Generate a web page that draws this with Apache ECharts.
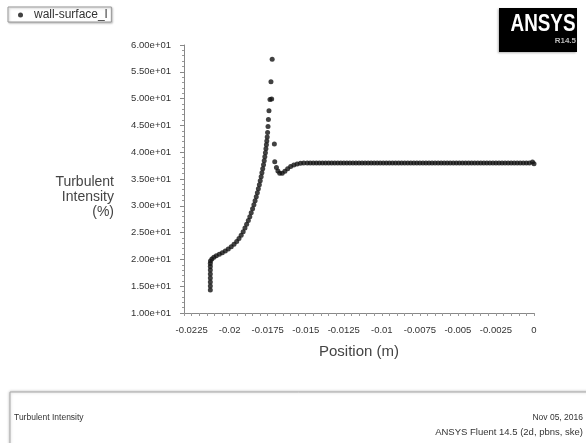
<!DOCTYPE html>
<html>
<head>
<meta charset="utf-8">
<script src="https://cdn.jsdelivr.net/npm/echarts@6/dist/echarts.min.js"></script>
<style>
  html, body { margin: 0; padding: 0; background: #fff; }
  #chart { width: 586px; height: 443px; }
</style>
</head>
<body>
<div id="chart"></div>
<script>
// wall-surface data: position (m) / turbulent intensity (%)
const position = [
  -0.02127, -0.02127, -0.02127, -0.02127, -0.02127, -0.02127, -0.02127, -0.02127, -0.02126,
  -0.021168, -0.021038, -0.020875, -0.020679, -0.020483, -0.020287, -0.020091, -0.019896,
  -0.019713, -0.019537, -0.019386, -0.019243, -0.019112, -0.018995, -0.018884, -0.018773,
  -0.018675, -0.018584, -0.018492, -0.018407, -0.018329, -0.018251, -0.018179, -0.018114,
  -0.018048, -0.017990, -0.017931, -0.017879, -0.017827, -0.017774, -0.017728, -0.017689,
  -0.017650, -0.017617, -0.017585, -0.017559,
  -0.017533, -0.017507, -0.017480, -0.017454, -0.017415, -0.017350, -0.017239, -0.017285, -0.017206,
  -0.017063, -0.017037,
  -0.016926, -0.016828, -0.016710, -0.016547, -0.016371, -0.016188, -0.015992, -0.015783,
  -0.015568, -0.015346, -0.015131,
  -0.0149, -0.0147, -0.0145, -0.0143, -0.0141, -0.0139, -0.0137, -0.0135, -0.0133, -0.0131,
  -0.0129, -0.0127, -0.0125, -0.0123, -0.0121, -0.0119, -0.0117, -0.0115, -0.0113, -0.0111,
  -0.0109, -0.0107, -0.0105, -0.0103, -0.0101, -0.0099, -0.0097, -0.0095, -0.0093, -0.0091,
  -0.0089, -0.0087, -0.0085, -0.0083, -0.0081, -0.0079, -0.0077, -0.0075, -0.0073, -0.0071,
  -0.0069, -0.0067, -0.0065, -0.0063, -0.0061, -0.0059, -0.0057, -0.0055, -0.0053, -0.0051,
  -0.0049, -0.0047, -0.0045, -0.0043, -0.0041, -0.0039, -0.0037, -0.0035, -0.0033, -0.0031,
  -0.0029, -0.0027, -0.0025, -0.0023, -0.0021, -0.0019, -0.0017, -0.0015, -0.0013, -0.0011,
  -0.0009, -0.0007, -0.0005, -0.0003, -0.0001, 0.0
]
const intensity = [
  14.29, 15.04, 15.78, 16.53, 17.28, 18.02, 18.68, 19.24, 19.70,
  20.07, 20.39, 20.67, 20.95, 21.23, 21.57, 21.94, 22.35,
  22.82, 23.34, 23.90, 24.51, 25.17, 25.86, 26.55, 27.26,
  27.97, 28.69, 29.44, 30.19, 30.93, 31.68, 32.43, 33.17,
  33.92, 34.66, 35.41, 36.16, 36.90, 37.65, 38.40, 39.14,
  39.89, 40.63, 41.38, 42.09,
  42.84, 43.68, 44.79, 46.10, 47.74, 49.83, 49.93, 53.15, 57.33,
  41.53, 38.23,
  37.15, 36.49, 36.06, 36.06, 36.44, 36.90, 37.31, 37.61,
  37.82, 37.93, 37.97,
  37.98, 37.99, 37.99, 38.00, 38.00, 38.00, 38.00, 38.00, 38.00, 38.00,
  38.00, 38.00, 38.00, 38.00, 38.00, 38.00, 38.00, 38.00, 38.00, 38.00,
  38.00, 38.00, 38.00, 38.00, 38.00, 38.00, 38.00, 38.00, 38.00, 38.00,
  38.00, 38.00, 38.00, 38.00, 38.00, 38.00, 38.00, 38.00, 38.00, 38.00,
  38.00, 38.00, 38.00, 38.00, 38.00, 38.00, 38.00, 38.00, 38.00, 38.00,
  38.00, 38.00, 38.00, 38.00, 38.00, 38.00, 38.00, 38.00, 38.00, 38.00,
  38.00, 38.00, 38.00, 38.00, 38.00, 38.00, 38.00, 38.00, 38.00, 38.00,
  38.00, 38.00, 38.00, 38.00, 38.15, 37.85
]
const xTickLabels = [-0.0225, -0.02, -0.0175, -0.015, -0.0125, -0.01, -0.0075, -0.005, -0.0025, 0]

const FONT = 'Liberation Sans, Arial, sans-serif'

function sciLabel(v) {
  // 60 -> "6.00e+01"
  const parts = v.toExponential(2).split('e')
  const sign = parts[1][0]
  const exp = parts[1].slice(1).padStart(2, '0')
  return parts[0] + 'e' + sign + exp
}

const chart = echarts.init(document.getElementById('chart'))

const option = {
  animation: false,
  backgroundColor: '#fff',
  textStyle: { fontFamily: FONT },
  grid: { left: 184, right: 52, top: 45, bottom: 130 },
  legend: {
    left: 8, top: 7,
    padding: [2, 4, 1, 10],
    backgroundColor: '#fff',
    borderColor: '#999',
    borderWidth: 1,
    shadowColor: 'rgba(0,0,0,0.25)',
    shadowBlur: 2,
    shadowOffsetX: 1,
    shadowOffsetY: 1,
    icon: 'circle',
    itemWidth: 5, itemHeight: 5,
    itemGap: 6,
    textStyle: { fontSize: 12, color: '#333', fontFamily: FONT, padding: [0, 0, 0, 6] }
  },
  xAxis: {
    type: 'value',
    min: -0.023, max: 0, interval: 0.0005,
    splitLine: { show: false },
    axisLine: { onZero: false, lineStyle: { color: '#888' } },
    axisTick: { length: 3, lineStyle: { color: '#999' } },
    axisLabel: {
      customValues: xTickLabels,
      formatter: v => String(v),
      fontSize: 9.5, color: '#333', margin: 12, fontFamily: FONT
    }
  },
  yAxis: {
    type: 'value',
    min: 10, max: 60, interval: 5,
    splitLine: { show: false },
    axisLine: { show: true, onZero: false, lineStyle: { color: '#888' } },
    axisTick: { show: true, length: 4, lineStyle: { color: '#888' } },
    minorTick: { show: true, splitNumber: 5, length: 2, lineStyle: { color: '#999' } },
    axisLabel: { formatter: sciLabel, fontSize: 9.5, color: '#333', margin: 13, fontFamily: FONT }
  },
  series: [{
    name: 'wall-surface_l',
    type: 'scatter',
    symbol: 'circle',
    symbolSize: 5,
    itemStyle: { color: '#111' },
    data: position.map((p, i) => [p, intensity[i]])
  }],
  graphic: [
    // ANSYS badge
    { type: 'rect', shape: { x: 499, y: 8, width: 78, height: 44 },
      style: { fill: '#000', shadowColor: 'rgba(0,0,0,0.3)', shadowBlur: 2, shadowOffsetX: -1, shadowOffsetY: 1 } },
    { type: 'text', x: 543, y: 13, scaleX: 0.82,
      style: { text: 'ANSYS', fill: '#fff', font: 'bold 23px ' + FONT, textAlign: 'center' } },
    { type: 'text', x: 576, y: 37,
      style: { text: 'R14.5', fill: '#bbb', font: 'bold 8px ' + FONT, textAlign: 'right' } },
    // axis titles
    { type: 'text', x: 114, y: 175,
      style: { text: 'Turbulent\nIntensity\n(%)', fill: '#444', font: '14px ' + FONT, textAlign: 'right', lineHeight: 15 } },
    { type: 'text', x: 359, y: 344,
      style: { text: 'Position (m)', fill: '#444', font: '15px ' + FONT, textAlign: 'center' } },
    // footer box
    { type: 'rect', shape: { x: 10, y: 392, width: 590, height: 60 },
      style: { fill: '#fff', stroke: '#aaa', lineWidth: 1, shadowColor: 'rgba(0,0,0,0.25)', shadowBlur: 3 } },
    { type: 'text', x: 14, y: 413,
      style: { text: 'Turbulent Intensity', fill: '#333', font: '8.5px ' + FONT } },
    { type: 'text', x: 583, y: 413,
      style: { text: 'Nov 05, 2016', fill: '#333', font: '8.5px ' + FONT, textAlign: 'right' } },
    { type: 'text', x: 583, y: 427,
      style: { text: 'ANSYS Fluent 14.5 (2d, pbns, ske)', fill: '#333', font: '9.5px ' + FONT, textAlign: 'right' } }
  ]
}

chart.setOption(option)
</script>
</body>
</html>
